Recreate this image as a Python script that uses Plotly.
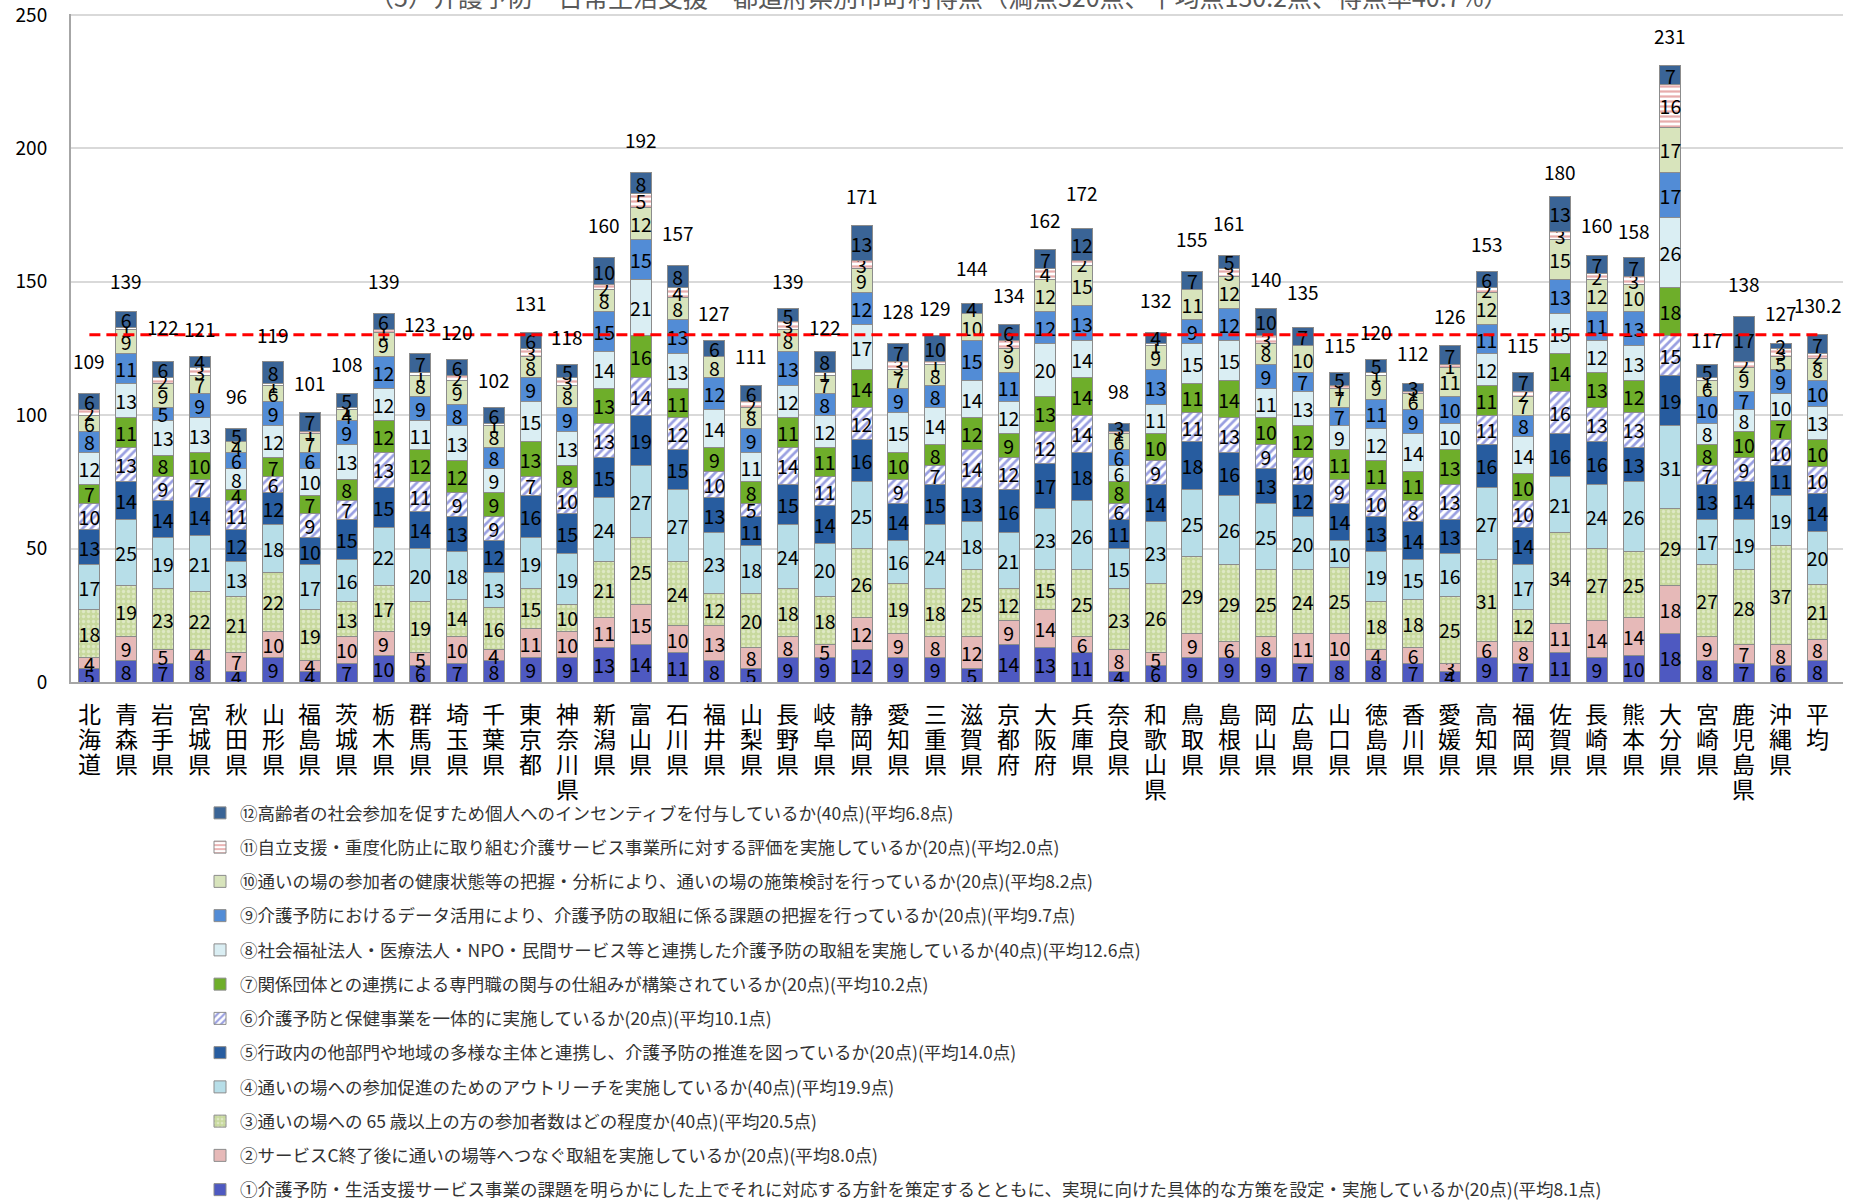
import plotly.graph_objects as go

prefs = ["北海道", "青森県", "岩手県", "宮城県", "秋田県", "山形県", "福島県", "茨城県", "栃木県", "群馬県",
         "埼玉県", "千葉県", "東京都", "神奈川県", "新潟県", "富山県", "石川県", "福井県", "山梨県", "長野県",
         "岐阜県", "静岡県", "愛知県", "三重県", "滋賀県", "京都府", "大阪府", "兵庫県", "奈良県", "和歌山県",
         "鳥取県", "島根県", "岡山県", "広島県", "山口県", "徳島県", "香川県", "愛媛県", "高知県", "福岡県",
         "佐賀県", "長崎県", "熊本県", "大分県", "宮崎県", "鹿児島県", "沖縄県", "平均"]

q1 = [5, 8, 7, 8, 4, 9, 4, 7, 10, 6, 7, 8, 9, 9, 13, 14, 11, 8, 5, 9, 9, 12, 9, 9, 5, 14, 13, 11, 4, 6,
      9, 9, 9, 7, 8, 8, 7, 4, 9, 7, 11, 9, 10, 18, 8, 7, 6, 8.1]
q2 = [4, 9, 5, 4, 7, 10, 4, 10, 9, 5, 10, 4, 11, 10, 11, 15, 10, 13, 8, 8, 5, 12, 9, 8, 12, 9, 14, 6, 8, 5,
      9, 6, 8, 11, 10, 4, 6, 3, 6, 8, 11, 14, 14, 18, 9, 7, 8, 8.0]
q3 = [18, 19, 23, 22, 21, 22, 19, 13, 17, 19, 14, 16, 15, 10, 21, 25, 24, 12, 20, 18, 18, 26, 19, 18, 25, 12, 15, 25, 23, 26,
      29, 29, 25, 24, 25, 18, 18, 25, 31, 12, 34, 27, 25, 29, 27, 28, 37, 20.5]
q4 = [17, 25, 19, 21, 13, 18, 17, 16, 22, 20, 18, 13, 19, 19, 24, 27, 27, 23, 18, 24, 20, 25, 16, 24, 18, 21, 23, 26, 15, 23,
      25, 26, 25, 20, 10, 19, 15, 16, 27, 17, 21, 24, 26, 31, 17, 19, 19, 19.9]
q5 = [13, 14, 14, 14, 12, 12, 10, 15, 15, 14, 13, 12, 16, 15, 15, 19, 15, 13, 11, 15, 14, 16, 14, 15, 13, 16, 17, 18, 11, 14,
      18, 16, 13, 12, 14, 13, 14, 13, 16, 14, 16, 16, 13, 19, 13, 14, 11, 14.0]
q6 = [10, 13, 9, 7, 11, 6, 9, 7, 13, 11, 9, 9, 7, 10, 13, 14, 12, 10, 5, 14, 11, 12, 9, 7, 14, 12, 12, 14, 6, 9,
      11, 13, 9, 10, 9, 10, 8, 13, 11, 10, 16, 13, 13, 15, 7, 9, 10, 10.1]
q7 = [7, 11, 8, 10, 4, 7, 7, 8, 12, 12, 12, 9, 13, 8, 13, 16, 11, 9, 8, 11, 11, 14, 10, 8, 12, 9, 13, 14, 8, 10,
      11, 14, 10, 12, 11, 11, 11, 13, 11, 10, 14, 13, 12, 18, 8, 10, 7, 10.2]
q8 = [12, 13, 13, 13, 8, 12, 10, 13, 12, 11, 13, 9, 15, 13, 14, 21, 13, 14, 11, 12, 12, 17, 15, 14, 14, 12, 20, 14, 6, 11,
      15, 15, 11, 13, 9, 12, 14, 10, 12, 14, 15, 12, 13, 26, 8, 8, 10, 12.6]
q9 = [8, 11, 5, 9, 6, 9, 6, 9, 12, 9, 8, 8, 9, 9, 15, 15, 13, 12, 9, 13, 8, 12, 9, 8, 15, 11, 12, 13, 6, 13,
      9, 12, 9, 7, 7, 11, 9, 10, 11, 8, 13, 11, 13, 17, 10, 7, 9, 9.7]
q10 = [6, 9, 9, 7, 4, 6, 7, 4, 9, 8, 9, 8, 8, 8, 8, 12, 8, 8, 8, 8, 7, 9, 7, 8, 10, 9, 12, 15, 6, 9,
       11, 12, 8, 10, 7, 9, 6, 11, 12, 7, 15, 12, 10, 17, 6, 9, 5, 8.2]
q11 = [2, 1, 2, 3, 0, 1, 1, 1, 1, 1, 2, 1, 3, 3, 2, 5, 4, 0, 2, 3, 1, 3, 3, 1, 0, 3, 4, 2, 1, 1,
       0, 3, 3, 0, 1, 1, 1, 1, 2, 2, 3, 2, 3, 16, 1, 2, 3, 2.0]
q12 = [6, 6, 6, 4, 5, 8, 7, 5, 6, 7, 6, 6, 6, 5, 10, 8, 8, 6, 6, 5, 8, 13, 7, 10, 4, 6, 7, 12, 3, 4,
       7, 5, 10, 7, 5, 5, 3, 7, 6, 7, 13, 7, 7, 7, 5, 17, 2, 6.8]

totals = [109, 139, 122, 121, 96, 119, 101, 108, 139, 123, 120, 102, 131, 118, 160, 192, 157, 127, 111, 139,
          122, 171, 128, 129, 144, 134, 162, 172, 98, 132, 155, 161, 140, 135, 115, 120, 112, 126, 153, 115,
          180, 160, 158, 231, 117, 138, 127, 130.2]

avg_line = 130.2

names = [
    "①介護予防・生活支援サービス事業の課題を明らかにした上でそれに対応する方針を策定するとともに、実現に向けた具体的な方策を設定・実施しているか(20点)(平均8.1点)",
    "②サービスC終了後に通いの場等へつなぐ取組を実施しているか(20点)(平均8.0点)",
    "③通いの場への 65 歳以上の方の参加者数はどの程度か(40点)(平均20.5点)",
    "④通いの場への参加促進のためのアウトリーチを実施しているか(40点)(平均19.9点)",
    "⑤行政内の他部門や地域の多様な主体と連携し、介護予防の推進を図っているか(20点)(平均14.0点)",
    "⑥介護予防と保健事業を一体的に実施しているか(20点)(平均10.1点)",
    "⑦関係団体との連携による専門職の関与の仕組みが構築されているか(20点)(平均10.2点)",
    "⑧社会福祉法人・医療法人・NPO・民間サービス等と連携した介護予防の取組を実施しているか(40点)(平均12.6点)",
    "⑨介護予防におけるデータ活用により、介護予防の取組に係る課題の把握を行っているか(20点)(平均9.7点)",
    "⑩通いの場の参加者の健康状態等の把握・分析により、通いの場の施策検討を行っているか(20点)(平均8.2点)",
    "⑪自立支援・重度化防止に取り組む介護サービス事業所に対する評価を実施しているか(20点)(平均2.0点)",
    "⑫高齢者の社会参加を促すため個人へのインセンティブを付与しているか(40点)(平均6.8点)",
]

series = [q1, q2, q3, q4, q5, q6, q7, q8, q9, q10, q11, q12]

colors = ["#4E59C1", "#E6B9B8", "#CFDDAE", "#B7DEE8", "#275C9F", "#FFFFFF",
          "#6EAE2A", "#DAEEF3", "#528CD6", "#D8E4BC", "#FFFFFF", "#3A6496"]

patterns = {
    2: dict(shape=".", bgcolor="#C8D99E", fgcolor="#F4F8EA", size=5, solidity=0.35),
    5: dict(shape="/", bgcolor="#FFFFFF", fgcolor="#3340C4", size=6, solidity=0.45),
    10: dict(shape="-", bgcolor="#FFFFFF", fgcolor="#D05A5A", size=5, solidity=0.45),
}

FONT = "Noto Sans CJK JP"

fig = go.Figure()

for i, (vals, name) in enumerate(zip(series, names)):
    marker = dict(color=colors[i], line=dict(color="#8C8C8C", width=1))
    if i in patterns:
        marker["pattern"] = patterns[i]
    fig.add_trace(go.Bar(
        x=prefs, y=vals, name=name, marker=marker,
        texttemplate="%{y:.0f}", textposition="inside", insidetextanchor="middle",
        textangle=0, textfont=dict(size=19.5, color="black", family=FONT),
        legendgroup=f"g{i}", legendrank=100 - i,
    ))

fig.add_trace(go.Scatter(
    x=prefs, y=[avg_line] * len(prefs), mode="lines",
    line=dict(color="#FF0000", width=3, dash="11px,6px"),
    showlegend=False, hoverinfo="skip",
))

# totals above the bars
for p, t in zip(prefs, totals):
    fig.add_annotation(x=p, y=t, text=str(t), showarrow=False, yanchor="bottom",
                       yshift=15, font=dict(size=19, color="black", family=FONT))

# vertical category names, one character per line with tight spacing
for p in prefs:
    for k, ch in enumerate(p):
        fig.add_annotation(x=p, y=0, yref="paper", text=ch, showarrow=False,
                           yanchor="top", yshift=-12 - 25 * k,
                           font=dict(size=23, color="black", family=FONT))

# title, cut off at the top edge as in the original
fig.add_annotation(
    xref="paper", yref="paper", x=0.49, y=1.0 + 18 / 668, yanchor="middle",
    text="（5）介護予防・日常生活支援　都道府県別市町村得点（満点320点、平均点130.2点、得点率40.7%）",
    showarrow=False, font=dict(size=25, color="#595959", family=FONT),
)

fig.update_layout(
    width=1867, height=1201,
    barmode="stack", bargap=0.43,
    plot_bgcolor="white", paper_bgcolor="white",
    margin=dict(l=71, r=24, t=14, b=519, autoexpand=False),
    font=dict(family=FONT, color="black"),
    uniformtext=dict(minsize=19.5, mode="show"),
    legend=dict(
        xref="container", yref="container", x=200 / 1867, y=1 - 795 / 1201,
        xanchor="left", yanchor="top",
        traceorder="grouped", tracegroupgap=8.5,
        font=dict(size=17.5, color="#333333", family=FONT),
        bgcolor="rgba(0,0,0,0)", itemwidth=30,
    ),
    showlegend=True,
)

fig.update_yaxes(
    range=[0, 250.4], tickvals=[0, 50, 100, 150, 200, 250], showgrid=True,
    gridcolor="#D9D9D9", gridwidth=1.5,
    showline=True, linecolor="#A6A6A6", linewidth=2,
    tickfont=dict(size=19, color="black"), ticklabelstandoff=18, zeroline=False,
    ticklabeloverflow="allow",
)

fig.update_xaxes(
    tickmode="array", tickvals=prefs, showticklabels=False,
    showline=True, linecolor="#A6A6A6", linewidth=2, ticks="",
)

fig.write_html("out.html", config={"displayModeBar": False},
               post_script="document.body.style.margin='0px';")
